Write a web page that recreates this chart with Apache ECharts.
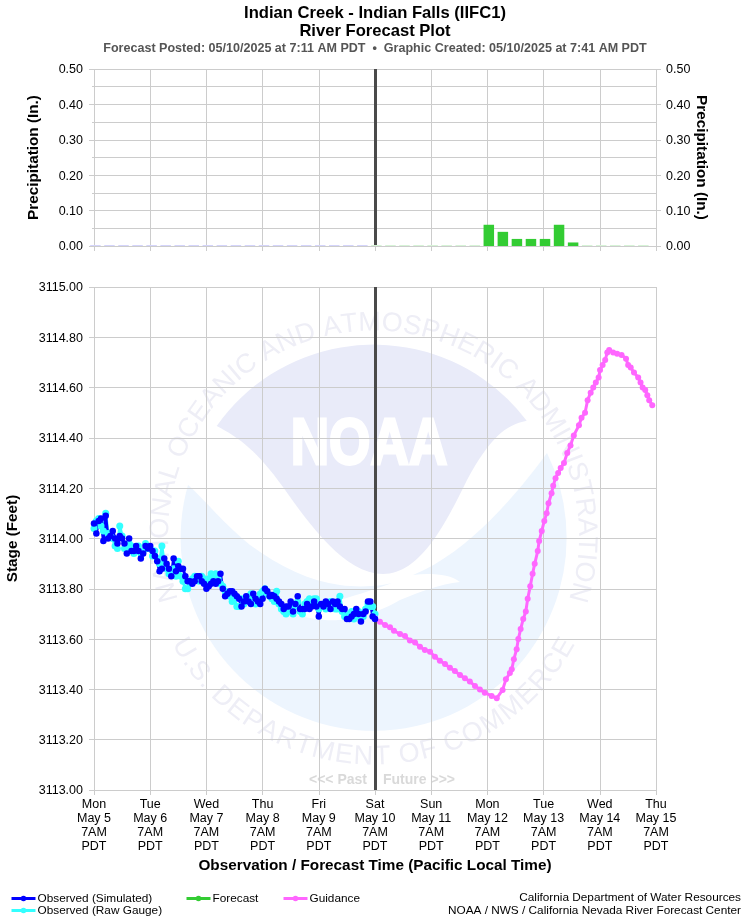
<!DOCTYPE html>
<html>
<head>
<meta charset="utf-8">
<title>River Forecast Plot</title>
<script src="https://cdn.jsdelivr.net/npm/echarts@6/dist/echarts.min.js"></script>
<style>
html, body { margin: 0; padding: 0; background: #fff; }
#chart { width: 750px; height: 920px; }
</style>
</head>
<body>
<div id="chart"></div>
<script>
// hours since Mon May 5 7AM PDT, one tick label per day
const dayLabels = ['Mon\nMay 5', 'Tue\nMay 6', 'Wed\nMay 7', 'Thu\nMay 8', 'Fri\nMay 9', 'Sat\nMay 10',
  'Sun\nMay 11', 'Mon\nMay 12', 'Tue\nMay 13', 'Wed\nMay 14', 'Thu\nMay 15'];
const nowHour = 120;

// hourly stage readings, first value at hour 0
const simulatedStage = [
  3114.06, 3114.02, 3114.07, 3114.08, 3113.99, 3114.09, 3114.00, 3114.01, 3114.03, 3114.00,
  3113.98, 3114.01, 3114.00, 3113.98, 3113.94, 3114.00, 3113.95, 3113.95, 3113.97, 3113.95,
  3113.92, 3113.94, 3113.97, 3113.96, 3113.97, 3113.95, 3113.93, 3113.91, 3113.87, 3113.88,
  3113.92, 3113.90, 3113.88, 3113.85, 3113.92, 3113.87, 3113.89, 3113.88, 3113.88, 3113.85,
  3113.83, 3113.83, 3113.82, 3113.83, 3113.85, 3113.85, 3113.83, 3113.82, 3113.80, 3113.81,
  3113.82, 3113.83, 3113.82, 3113.83, 3113.86, 3113.80, 3113.77, 3113.78, 3113.79, 3113.79,
  3113.78, 3113.77, 3113.76, 3113.73, 3113.75, 3113.77, 3113.75, 3113.74, 3113.78, 3113.76,
  3113.75, 3113.74, 3113.76, 3113.80, 3113.79, 3113.77, 3113.775, 3113.77, 3113.76, 3113.75,
  3113.74, 3113.72, 3113.73, 3113.73, 3113.75, 3113.71, 3113.74, 3113.77, 3113.72, 3113.72,
  3113.72, 3113.74, 3113.72, 3113.73, 3113.75, 3113.73, 3113.69, 3113.74, 3113.73, 3113.75,
  3113.74, 3113.72, 3113.75, 3113.74, 3113.75, 3113.73, 3113.72, 3113.72, 3113.68, 3113.68,
  3113.69, 3113.70, 3113.72, 3113.70, 3113.67, 3113.70, 3113.71, 3113.75, 3113.75, 3113.69,
  3113.68
];
const rawStage = [
  3114.04, 3114.07, 3114.08, 3114.05, 3114.03, 3114.10, 3114.02, 3114.02, 3114.00, 3113.97,
  3113.96, 3114.05, 3114.01, 3113.96, 3113.96, 3113.98, 3113.97, 3113.94, 3113.95, 3113.97,
  3113.94, 3113.95, 3113.98, 3113.96, 3113.96, 3113.93, 3113.95, 3113.92, 3113.90, 3113.97,
  3113.90, 3113.88, 3113.86, 3113.87, 3113.88, 3113.85, 3113.91, 3113.85, 3113.83, 3113.80,
  3113.80, 3113.82, 3113.84, 3113.85, 3113.84, 3113.83, 3113.85, 3113.84, 3113.82, 3113.84,
  3113.86, 3113.85, 3113.86, 3113.84, 3113.82, 3113.81, 3113.79, 3113.78, 3113.77, 3113.75,
  3113.76, 3113.73, 3113.73, 3113.76, 3113.74, 3113.75, 3113.76, 3113.78, 3113.75, 3113.74,
  3113.76, 3113.78, 3113.79, 3113.80, 3113.78, 3113.77, 3113.76, 3113.75, 3113.79, 3113.74,
  3113.72, 3113.71, 3113.70, 3113.72, 3113.71, 3113.70, 3113.73, 3113.75, 3113.71, 3113.70,
  3113.74, 3113.75, 3113.76, 3113.75, 3113.76, 3113.76, 3113.72, 3113.73, 3113.74, 3113.72,
  3113.73, 3113.75, 3113.73, 3113.72, 3113.72, 3113.77, 3113.71, 3113.69, 3113.69, 3113.70,
  3113.71, 3113.68, 3113.69, 3113.71, 3113.68, 3113.69, 3113.72, 3113.74, 3113.73, 3113.73,
  3113.70
];

const forecastStage = [];

const guidanceHours = [
  120, 122.1, 124.3, 126.4, 128.1, 130.7, 132.8, 134.9, 137.1, 139.2, 141.3, 143.5, 145.6, 147.7, 149.9,
  152, 154.1, 156.3, 158.4, 160.5, 162.7, 164.8, 166.9, 169.8, 172, 174.5, 175.9, 177.6, 178.4, 179.3,
  180.5, 181.2, 182.2, 183.3, 184.4, 185.2, 186.3, 187.3, 188.2, 189.5, 190.1, 191.2, 192.3, 193.3, 194.1,
  195.4, 196.1, 197.1, 198.2, 199.3, 200.7, 202.1, 203.5, 204.9, 207.1, 208.2, 209.7, 210.8, 212.1, 213.2,
  214.3, 215.5, 216.1, 217.2, 218.3, 219.2, 220, 221.7, 223.4, 225.3, 227.2, 228.1, 229.2, 230.6, 232.4,
  233.4, 234.3, 235.4, 236.3, 237.1, 238.4
];
const guidanceStage = [
  3113.683, 3113.669, 3113.656, 3113.647, 3113.633, 3113.620, 3113.612, 3113.594, 3113.586, 3113.570,
  3113.557, 3113.550, 3113.530, 3113.514, 3113.501, 3113.486, 3113.473, 3113.457, 3113.444, 3113.431,
  3113.414, 3113.400, 3113.387, 3113.374, 3113.365, 3113.398, 3113.44, 3113.465, 3113.48, 3113.52,
  3113.56, 3113.60, 3113.64, 3113.68, 3113.71, 3113.76, 3113.81, 3113.86, 3113.90, 3113.95,
  3113.99, 3114.03, 3114.07, 3114.10, 3114.14, 3114.18, 3114.21, 3114.24, 3114.26, 3114.28,
  3114.30, 3114.34, 3114.37, 3114.41, 3114.45, 3114.48, 3114.50, 3114.55, 3114.58, 3114.60,
  3114.62, 3114.64, 3114.67, 3114.69, 3114.71, 3114.74, 3114.75, 3114.74, 3114.735, 3114.73,
  3114.715, 3114.69, 3114.68, 3114.66, 3114.64, 3114.62, 3114.60, 3114.59, 3114.57, 3114.55,
  3114.53
];

// 6-hourly precipitation, past is all zero
const pastPrecipHours = [0.6, 6.6, 12.6, 18.6, 24.6, 30.6, 36.6, 42.6, 48.6, 54.6, 60.6, 66.6, 72.6, 78.6, 84.6,
  90.6, 96.6, 102.6, 108.6, 114.6];
const pastPrecip = [0, 0, 0, 0, 0, 0, 0, 0, 0, 0, 0, 0, 0, 0, 0, 0, 0, 0, 0, 0];
const forecastPrecipHours = [120.6, 126.6, 132.6, 138.6, 144.6, 150.6, 156.6, 162.6, 168.6, 174.6, 180.6, 186.6,
  192.6, 198.6, 204.6, 210.6, 216.6, 222.6, 228.6, 234.6];
const forecastPrecip = [0, 0, 0, 0, 0, 0, 0, 0, 0.06, 0.04, 0.02, 0.02, 0.02, 0.06, 0.01, 0, 0, 0, 0, 0];

const pairs = (xs, ys) => ys.map((y, i) => [xs[i], y]);
const hourly = ys => ys.map((y, i) => [i, y]);

const FONT = '"Liberation Sans", Arial, sans-serif';
const GRID_COLOR = '#cccccc';
const NOW_COLOR = '#4a4a4a';

// watermark: seal lettering placed one glyph at a time round the ring
const SEAL_X = 373.5, SEAL_Y = 536;
const measure = document.createElement('canvas').getContext('2d');
function ringText(str, fromDeg, toDeg, r, lower) {
  const font = '27px ' + FONT;
  measure.font = font;
  const widths = str.split('').map(c => measure.measureText(c).width);
  const total = widths.reduce((a, b) => a + b, 0);
  const k = (toDeg - fromDeg) / total;
  let pos = fromDeg;
  return str.split('').map((c, i) => {
    const deg = pos + widths[i] * k / 2;
    pos += widths[i] * k;
    const a = deg * Math.PI / 180;
    return {
      type: 'text', z: -1, silent: true,
      x: SEAL_X + r * Math.sin(a),
      y: lower ? SEAL_Y + r * Math.cos(a) : SEAL_Y - r * Math.cos(a),
      rotation: lower ? a : -a,
      style: { text: c, font: font, fill: '#eeeef6', align: 'center', verticalAlign: 'middle' }
    };
  });
}

echarts.graphic.registerShape('sealLower', echarts.graphic.extendPath(
  'M188 485 A193 193 0 1 0 547 453 C520 490 470 552 413 575 C430 573 450 574 460 582 C440 584 420 592 400 600 ' +
  'C380 612 350 622 325 620 C310 619 295 615 280 610 C310 610 350 598 395 582 C385 586 360 588 340 585 ' +
  'C310 581 280 567 250 545 C225 525 205 500 188 485 Z', {}));
echarts.graphic.registerShape('sealUpper', echarts.graphic.extendPath(
  'M216.7 426 A192 192 0 0 1 526.7 420.7 C505 425 490 438 467 480 C445 525 420 574 383 574 ' +
  'C345 574 310 525 283 487 C258 452 240 438 216.7 426 Z', {}));

const logo = [
  { type: 'sealLower', z: -2, silent: true, style: { fill: '#edf5fe' } },
  { type: 'sealUpper', z: -2, silent: true, style: { fill: '#e9ebf9' } },
  { type: 'text', z: -1, silent: true, x: 369, y: 446, scaleX: 0.76, scaleY: 0.92,
    style: { text: 'NOAA', font: 'bold 70px ' + FONT, fill: '#ffffff', stroke: '#ffffff', lineWidth: 3,
      align: 'center', verticalAlign: 'middle' } }
].concat(
  ringText('NATIONAL OCEANIC AND ATMOSPHERIC ADMINISTRATION', -108, 108, 213, false),
  ringText('U.S. DEPARTMENT OF COMMERCE', -62, 62, 221, true)
);

function label(text, x, y, size, opts) {
  return {
    type: 'text', x: x, y: y, silent: true,
    style: Object.assign({ text: text, font: size + 'px ' + FONT, fill: '#000', align: 'center', verticalAlign: 'middle' }, opts || {})
  };
}

const texts = [
  label('Indian Creek - Indian Falls (IIFC1)', 375, 13, 16.6, { font: 'bold 16.6px ' + FONT }),
  label('River Forecast Plot', 375, 31, 16.6, { font: 'bold 16.6px ' + FONT }),
  label('Forecast Posted: 05/10/2025 at 7:11 AM PDT  \u2022  Graphic Created: 05/10/2025 at 7:41 AM PDT', 375, 48.5, 12.55,
    { font: 'bold 12.55px ' + FONT, fill: '#555555' }),
  label('<<< Past', 338, 780, 14, { font: 'bold 14px ' + FONT, fill: '#d9d9d9' }),
  label('Future >>>', 419, 780, 14, { font: 'bold 14px ' + FONT, fill: '#d9d9d9' }),
  label('California Department of Water Resources', 741, 898, 11.8, { align: 'right' }),
  label('NOAA / NWS / California Nevada River Forecast Center', 741, 911, 11.8, { align: 'right' })
];

function nowLine() {
  return {
    silent: true, symbol: 'none', z: 1, animation: false,
    label: { show: false },
    lineStyle: { color: NOW_COLOR, width: 3, type: 'solid' },
    data: [{ xAxis: nowHour }]
  };
}

function xAxis(gridIndex, showLabels) {
  return {
    type: 'value', gridIndex: gridIndex, min: 0, max: 240, interval: 24,
    axisLine: { show: true, lineStyle: { color: GRID_COLOR } },
    axisTick: { show: true, length: 5, lineStyle: { color: GRID_COLOR } },
    splitLine: { show: true, lineStyle: { color: GRID_COLOR } },
    axisLabel: showLabels ? {
      show: true, margin: 8, color: '#000', fontFamily: FONT, fontSize: 12.5, lineHeight: 13.8, hideOverlap: false,
      formatter: v => dayLabels[v / 24] + '\n7AM\nPDT'
    } : { show: false },
    name: showLabels ? 'Observation / Forecast Time (Pacific Local Time)' : '',
    nameLocation: 'middle', nameGap: 68,
    nameTextStyle: { color: '#000', fontFamily: FONT, fontSize: 15.3, fontWeight: 'bold' }
  };
}

function precipAxis(position, nameRotate, nameGap) {
  const isLeft = position === 'left';
  return {
    type: 'value', gridIndex: 0, position: position, min: 0, max: 0.5, interval: 0.1,
    name: 'Precipitation (In.)', nameLocation: 'middle', nameGap: nameGap, nameRotate: nameRotate, nameMoveOverlap: false,
    nameTextStyle: { color: '#000', fontFamily: FONT, fontSize: 15.3, fontWeight: 'bold' },
    axisLine: { show: false },
    axisTick: { show: true, length: 5, lineStyle: { color: GRID_COLOR } },
    minorTick: { show: isLeft, splitNumber: 2, length: 2, lineStyle: { color: GRID_COLOR } },
    splitLine: { show: isLeft, lineStyle: { color: GRID_COLOR } },
    minorSplitLine: { show: isLeft, lineStyle: { color: GRID_COLOR } },
    axisLabel: {
      color: '#000', fontFamily: FONT, fontSize: 12.5, margin: isLeft ? 11 : 10, verticalAlign: 'top', lineHeight: 2, hideOverlap: false,
      formatter: v => v.toFixed(2)
    }
  };
}

function legendAt(name, left, top) {
  return {
    data: [name], left: left, top: top, orient: 'horizontal', padding: 0, itemWidth: 24, itemHeight: 7, itemGap: 0,
    selectedMode: false,
    lineStyle: { width: 3 },
    textStyle: { color: '#000', fontFamily: FONT, fontSize: 11.8, padding: [0, 0, 0, -3] }
  };
}

const chart = echarts.init(document.getElementById('chart'), null, { renderer: 'canvas' });
chart.setOption({
  animation: false,
  backgroundColor: '#fff',
  graphic: { elements: logo.concat(texts) },
  legend: [
    legendAt('Observed (Simulated)', 10, 892.5),
    legendAt('Observed (Raw Gauge)', 10, 904.5),
    legendAt('Forecast', 185, 892.5),
    legendAt('Guidance', 282, 892.5)
  ],
  grid: [
    { left: 94, right: 94, top: 69, height: 177, outerBoundsMode: 'none' },
    { left: 94, right: 94, top: 287, height: 503, outerBoundsMode: 'none' }
  ],
  xAxis: [xAxis(0, false), xAxis(1, true)],
  yAxis: [
    precipAxis('left', 90, 53),
    precipAxis('right', -90, 38),
    {
      type: 'value', gridIndex: 1, min: 3113, max: 3115, interval: 0.2,
      name: 'Stage (Feet)', nameLocation: 'middle', nameGap: 74, nameRotate: 90, nameMoveOverlap: false,
      nameTextStyle: { color: '#000', fontFamily: FONT, fontSize: 15.3, fontWeight: 'bold' },
      axisLine: { show: false },
      axisTick: { show: true, length: 5, lineStyle: { color: GRID_COLOR } },
      splitLine: { show: true, lineStyle: { color: GRID_COLOR } },
      axisLabel: { color: '#000', fontFamily: FONT, fontSize: 12.5, margin: 11, verticalAlign: 'top', lineHeight: 2, formatter: v => v.toFixed(2) }
    }
  ],
  series: [
    {
      name: 'Past Precipitation', type: 'bar', xAxisIndex: 0, yAxisIndex: 0, barWidth: 10.5, barGap: '-100%', barMinHeight: 1,
      itemStyle: { color: '#d4d4fb' }, data: pairs(pastPrecipHours, pastPrecip), markLine: nowLine()
    },
    {
      name: 'Forecast Precipitation', type: 'bar', xAxisIndex: 0, yAxisIndex: 0, barWidth: 10.5, barGap: '-100%', barMinHeight: 1,
      itemStyle: { color: params => params.value[1] > 0 ? '#33cc33' : '#d6f3d6' }, data: pairs(forecastPrecipHours, forecastPrecip)
    },
    {
      name: 'Observed (Raw Gauge)', type: 'line', xAxisIndex: 1, yAxisIndex: 2, color: '#33ffff', showSymbol: true, showAllSymbol: true,
      symbol: 'circle', symbolSize: 7, lineStyle: { width: 3 }, data: hourly(rawStage), markLine: nowLine()
    },
    {
      name: 'Forecast', type: 'line', xAxisIndex: 1, yAxisIndex: 2, color: '#33cc33',
      symbol: 'circle', symbolSize: 6, lineStyle: { width: 3 }, data: forecastStage
    },
    {
      name: 'Guidance', type: 'line', xAxisIndex: 1, yAxisIndex: 2, color: '#ff66ff', showAllSymbol: true,
      symbol: 'circle', symbolSize: 6, lineStyle: { width: 3 }, data: pairs(guidanceHours, guidanceStage)
    },
    {
      name: 'Observed (Simulated)', type: 'line', xAxisIndex: 1, yAxisIndex: 2, color: '#0000ff', showAllSymbol: true,
      symbol: 'circle', symbolSize: 6.5, lineStyle: { width: 3 }, data: hourly(simulatedStage)
    }
  ]
});
</script>
</body>
</html>
